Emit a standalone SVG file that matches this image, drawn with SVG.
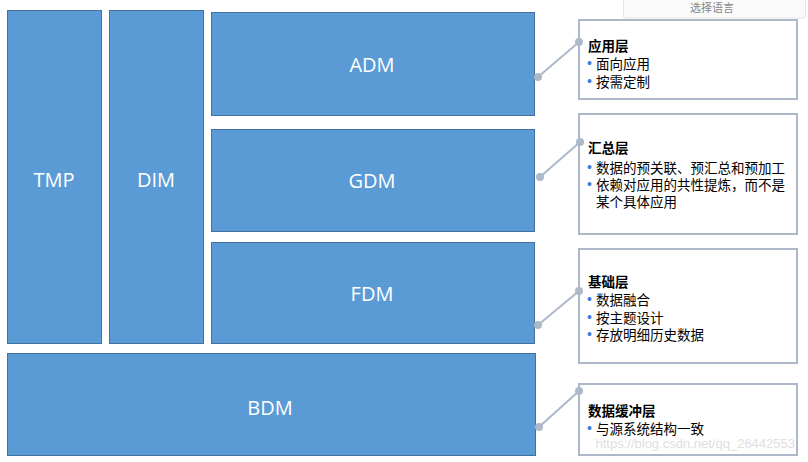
<svg xmlns="http://www.w3.org/2000/svg" width="808" height="462" viewBox="0 0 808 462">
<defs>
<style>
.blk{fill:#5B9BD5;stroke:#41719C;stroke-width:1}
.lbl{fill:#fff;font-family:"Open Sans","Liberation Sans",sans-serif;font-size:20px;text-anchor:middle}
.note{fill:#fff;stroke:#ADB9CA;stroke-width:2}
.t{font-family:"Noto Sans CJK SC","Liberation Sans",sans-serif;font-size:13.5px;fill:#000}
.b{font-weight:bold}
.dot{fill:#3C7BE0;font-family:"Liberation Sans",sans-serif;font-size:14px}
.con line{stroke:#ADB9CA;stroke-width:2}
.con circle{fill:#ADB9CA}
</style>
</defs>
<rect width="808" height="462" fill="#fff"/>
<g id="TMP"><rect class="blk" x="7.5" y="10.5" width="94" height="333"/><text class="lbl" x="54" y="187">TMP</text></g>
<g id="DIM"><rect class="blk" x="109.5" y="10.5" width="94" height="333"/><text class="lbl" x="156" y="187">DIM</text></g>
<g id="ADM"><rect class="blk" x="211.5" y="12.5" width="323" height="103"/><text class="lbl" x="372" y="72">ADM</text></g>
<g id="GDM"><rect class="blk" x="211.5" y="129.5" width="323" height="102"/><text class="lbl" x="372" y="188">GDM</text></g>
<g id="FDM"><rect class="blk" x="211.5" y="242.5" width="323" height="101"/><text class="lbl" x="372" y="301">FDM</text></g>
<g id="BDM"><rect class="blk" x="7.5" y="353.5" width="528" height="102"/><text class="lbl" x="270" y="415">BDM</text></g>
<g id="note-adm"><rect class="note" x="579" y="20" width="218" height="79"/>
<text class="t b" x="588" y="51">应用层</text>
<text class="dot" x="587" y="68">•</text><text class="t" x="596" y="69">面向应用</text>
<text class="dot" x="587" y="86">•</text><text class="t" x="596" y="87">按需定制</text></g>
<g id="note-gdm"><rect class="note" x="579" y="114" width="218" height="120"/>
<text class="t b" x="588" y="153">汇总层</text>
<text class="dot" x="587" y="172">•</text><text class="t" x="596" y="173">数据的预关联、预汇总和预加工</text>
<text class="dot" x="587" y="189">•</text><text class="t" x="596" y="190">依赖对应用的共性提炼，而不是</text>
<text class="t" x="596" y="207">某个具体应用</text></g>
<g id="note-fdm"><rect class="note" x="579" y="249" width="218" height="114"/>
<text class="t b" x="588" y="287">基础层</text>
<text class="dot" x="587" y="304">•</text><text class="t" x="596" y="305">数据融合</text>
<text class="dot" x="587" y="322">•</text><text class="t" x="596" y="323">按主题设计</text>
<text class="dot" x="587" y="339">•</text><text class="t" x="596" y="340">存放明细历史数据</text></g>
<g id="note-bdm"><rect class="note" x="579" y="384" width="218" height="71"/>
<text class="t b" x="588" y="416">数据缓冲层</text>
<text class="dot" x="587" y="433">•</text><text class="t" x="596" y="434">与源系统结构一致</text></g>
<g class="con" id="connectors">
<line x1="538" y1="77" x2="579" y2="42"/><circle cx="538" cy="77" r="4"/><circle cx="579" cy="42" r="4"/>
<line x1="540" y1="177" x2="580" y2="142"/><circle cx="540" cy="177" r="4"/><circle cx="580" cy="142" r="4"/>
<line x1="538" y1="325" x2="579" y2="291"/><circle cx="538" cy="325" r="4"/><circle cx="579" cy="291" r="4"/>
<line x1="539" y1="427" x2="579" y2="391"/><circle cx="539" cy="427" r="4"/><circle cx="579" cy="391" r="4"/>
</g>
<text x="795" y="448" text-anchor="end" font-family="Liberation Sans, sans-serif" font-size="13" fill="#e0e0e0">https://blog.csdn.net/qq_26442553</text>
<g id="lang-button"><rect x="623.5" y="-3" width="182" height="21" rx="2" fill="#fafafa" stroke="#e6e6e6"/>
<text x="712" y="12" text-anchor="middle" font-family="Noto Sans CJK SC, sans-serif" font-size="11" fill="#888">选择语言</text></g>
</svg>
